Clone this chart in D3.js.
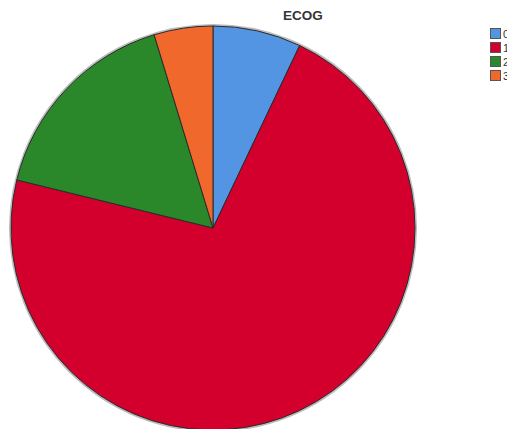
<!DOCTYPE html>
<html>
<head>
<meta charset="utf-8">
<script src="https://cdn.jsdelivr.net/npm/d3@7"></script>
<style>
  body { margin: 0; background: #fff; overflow: hidden; }
  svg { display: block; }
</style>
</head>
<body>
<div id="chart"></div>
<script>
const categories = ["0", "1", "2", "3"];
const counts = [6, 61, 14, 4];
const colors = ["#5395e3", "#d3002e", "#2a882a", "#f0682c"];
const title = "ECOG";

const width = 507, height = 429;
const cx = 213, cy = 228, radius = 202;

const svg = d3.select("#chart")
  .append("svg")
  .attr("width", width)
  .attr("height", height);

const color = d3.scaleOrdinal().domain(categories).range(colors);

const pie = d3.pie().sort(null).value((d, i) => counts[i]);
const arc = d3.arc().innerRadius(0).outerRadius(radius);

const g = svg.append("g").attr("transform", `translate(${cx},${cy})`);

// soft shadow round the edge
g.append("circle")
  .attr("r", radius + 1)
  .attr("fill", "none")
  .attr("stroke", "#bbb")
  .attr("stroke-width", 2);

g.selectAll("path")
  .data(pie(categories))
  .join("path")
  .attr("d", arc)
  .attr("fill", (d) => color(d.data))
  .attr("stroke", "#2a2a2a")
  .attr("stroke-width", 1)
  .attr("stroke-linejoin", "round");

svg.append("text")
  .attr("x", 303)
  .attr("y", 20)
  .attr("text-anchor", "middle")
  .attr("font-family", "Liberation Sans, Arial, sans-serif")
  .attr("font-weight", "bold")
  .attr("font-size", 13.5)
  .attr("fill", "#333")
  .text(title);

const legend = svg.append("g").attr("transform", "translate(490,28)");
const item = legend.selectAll("g")
  .data(categories)
  .join("g")
  .attr("transform", (d, i) => `translate(0,${i * 14})`);

item.append("rect")
  .attr("x", 0.5)
  .attr("y", 0.5)
  .attr("width", 10)
  .attr("height", 10)
  .attr("fill", (d) => color(d))
  .attr("stroke", "#555")
  .attr("stroke-width", 1);

item.append("text")
  .attr("x", 13)
  .attr("y", 9.5)
  .attr("font-family", "Liberation Sans, Arial, sans-serif")
  .attr("font-size", 11)
  .attr("fill", "#333")
  .text((d) => d);
</script>
</body>
</html>
